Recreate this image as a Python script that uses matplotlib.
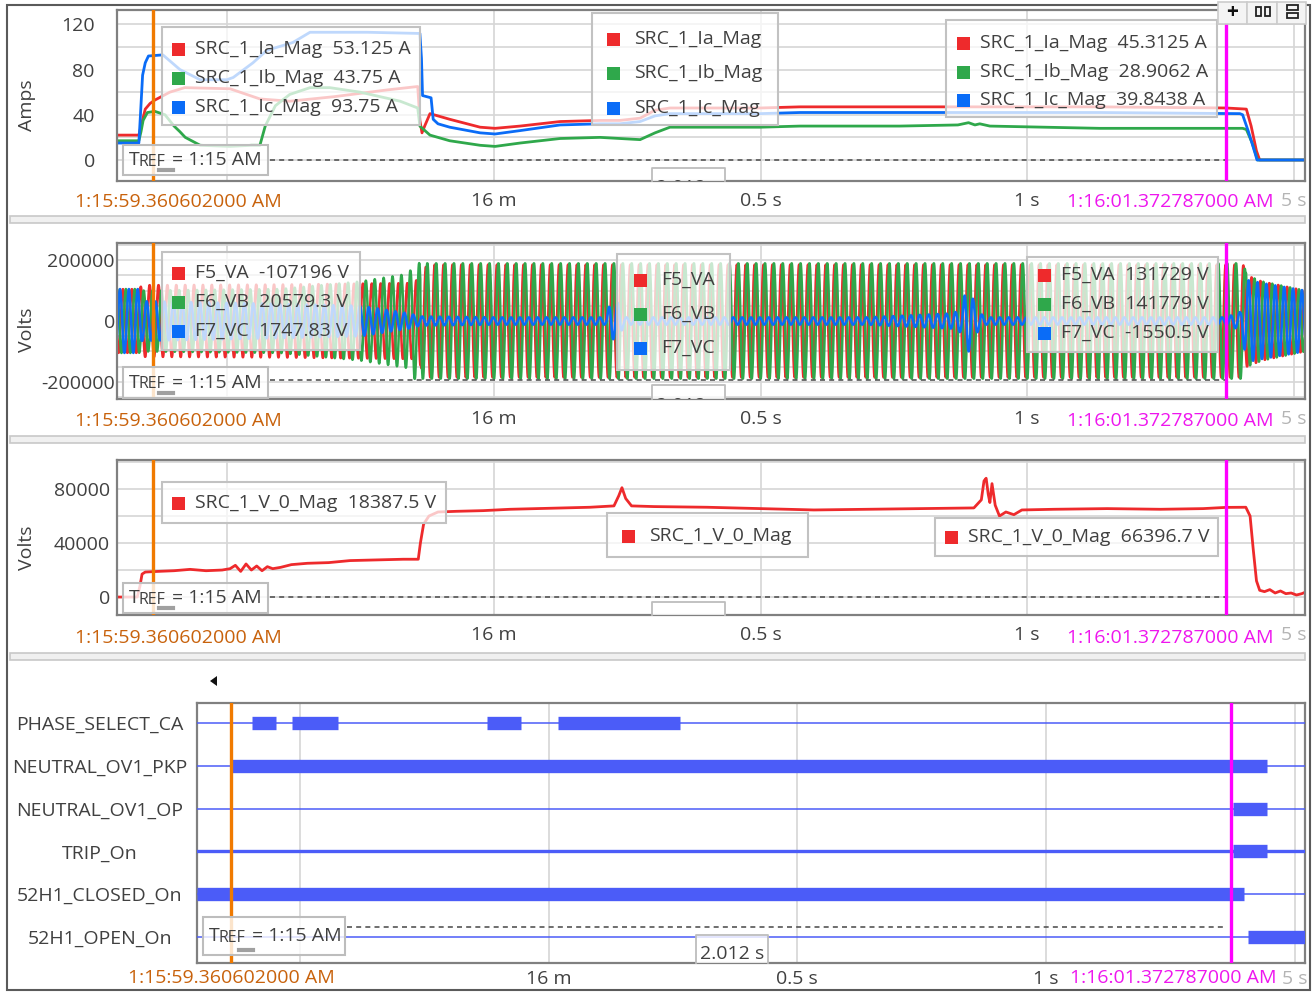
import numpy as np
import matplotlib
matplotlib.use('Agg')
import matplotlib.pyplot as plt
from matplotlib.patches import Rectangle, Polygon
from matplotlib.transforms import Bbox, TransformedBbox

plt.rcParams['font.family'] = ['Open Sans', 'DejaVu Sans']
plt.rcParams['axes.unicode_minus'] = False

# ---------------------------------------------------------------- data
T_START, T_END = 0.293, 2.521          # seconds after 1:15:59 AM
CURSOR_1 = 0.360602                    # 1:15:59.360602000 AM
CURSOR_2 = 2.372787                    # 1:16:01.372787000 AM
cursor_1_label = '1:15:59.360602000 AM'
cursor_2_label = '1:16:01.372787000 AM'
grid_times = [0.5, 1.0, 1.5, 2.0, 2.5]
time_labels = ['', '16 m', '0.5 s', '1 s', '5 s']

# Panel 1 - current magnitudes (A)
ia_t = [0.293, 0.334, 0.338, 0.346, 0.355, 0.364, 0.392, 0.420, 0.505, 0.561,
        0.617, 0.700, 0.800, 0.857, 0.861, 0.865, 0.870, 0.880, 0.917, 0.974,
        1.002, 1.049, 1.124, 1.199, 1.236, 1.274, 1.302, 1.330, 1.499, 1.574,
        1.761, 1.911, 2.136, 2.373, 2.411, 2.420, 2.430, 2.436, 2.521]
ia = [22, 22, 30, 45, 50, 53, 60, 64, 63, 54,
      52, 56, 62, 65, 35, 24, 30, 41, 36, 29,
      28, 30, 34, 35, 35, 37, 44, 46, 46, 47,
      47, 47, 47, 46, 45, 30, 8, 0, 0]
ib_t = [0.293, 0.334, 0.338, 0.342, 0.350, 0.364, 0.383, 0.400, 0.411, 0.421,
        0.449, 0.505, 0.545, 0.561, 0.571, 0.590, 0.617, 0.655, 0.692, 0.749,
        0.824, 0.857, 0.861, 0.868, 0.880, 0.917, 0.974, 1.002, 1.049, 1.124,
        1.199, 1.236, 1.274, 1.302, 1.330, 1.499, 1.574, 1.761, 1.870, 1.890,
        1.902, 1.911, 1.930, 2.136, 2.404, 2.411, 2.422, 2.432, 2.521]
ib = [17, 17, 25, 35, 42, 43, 40, 30, 25, 20,
      13, 12, 13, 13, 30, 48, 58, 64, 64, 60,
      52, 46, 30, 27, 22, 17, 13, 12, 15, 19,
      20, 19, 18, 24, 29, 29, 30, 30, 31, 33,
      31, 32, 30, 28, 28, 27, 15, 0, 0]
ic_t = [0.293, 0.334, 0.337, 0.341, 0.346, 0.352, 0.379, 0.411, 0.449, 0.499,
        0.511, 0.548, 0.574, 0.623, 0.655, 0.762, 0.856, 0.861, 0.864, 0.866,
        0.882, 0.886, 0.895, 0.917, 0.974, 1.002, 1.049, 1.124, 1.199, 1.236,
        1.274, 1.302, 1.330, 1.499, 1.574, 1.761, 2.136, 2.399, 2.404, 2.415,
        2.428, 2.431, 2.521]
ic = [15, 15, 40, 75, 86, 92, 93, 80, 71, 71,
      73, 86, 97, 104, 113, 113, 112, 112, 90, 57,
      55, 36, 32, 29, 24, 23, 26, 31, 32, 32,
      34, 39, 41, 41, 42, 42, 42, 41, 40, 25,
      5, 0, 0]

# Panel 2 - phase voltage envelopes (V peak) and phase angles (deg)
F_HZ = 60.0
FAULT_T, OPEN_T = 0.862, 2.410
va_env_t = [0.293, 0.334, 0.340, 0.600, 0.850, 0.862, 0.875, 2.405, 2.412, 2.440, 2.521]
va_env = [105000, 105000, 118000, 120000, 125000, 150000, 185000, 185000, 150000, 130000, 100000]
vb_env_t = [0.293, 0.334, 0.340, 0.600, 0.750, 0.840, 0.850, 2.405, 2.412, 2.440, 2.521]
vb_env = [105000, 105000, 100000, 105000, 130000, 155000, 190000, 190000, 150000, 130000, 100000]
vc_env_t = [0.293, 0.334, 0.340, 0.500, 0.750, 0.840, 0.862, 1.000, 1.210, 1.218,
            1.232, 1.245, 1.700, 1.860, 1.878, 1.884, 1.893, 1.905, 1.920, 2.373,
            2.400, 2.412, 2.440, 2.521]
vc_env = [105000, 105000, 65000, 60000, 50000, 25000, 15000, 12000, 12000, 60000,
          60000, 12000, 12000, 25000, 40000, 100000, 100000, 40000, 12000, 12000,
          30000, 135000, 125000, 100000]
va_phase = [0, -30, 0]      # pre-fault, ground fault, after breaker open
vb_phase = [-120, -90, -120]
vc_phase = [120, 120, 120]

# Panel 3 - zero sequence voltage magnitude (V)
v0_t = [0.293, 0.331, 0.336, 0.340, 0.346, 0.370, 0.400, 0.430, 0.460, 0.490,
        0.505, 0.515, 0.525, 0.535, 0.545, 0.555, 0.565, 0.575, 0.585, 0.600,
        0.620, 0.650, 0.690, 0.730, 0.780, 0.830, 0.858, 0.862, 0.868, 0.878,
        0.895, 0.930, 0.980, 1.030, 1.080, 1.130, 1.180, 1.225, 1.234, 1.240,
        1.247, 1.258, 1.300, 1.400, 1.500, 1.600, 1.700, 1.800, 1.900, 1.914,
        1.919, 1.923, 1.927, 1.930, 1.934, 1.940, 1.948, 1.960, 1.975, 1.990,
        2.050, 2.150, 2.250, 2.330, 2.373, 2.410, 2.418, 2.424, 2.430, 2.436,
        2.445, 2.455, 2.465, 2.475, 2.485, 2.495, 2.505, 2.515, 2.521]
v0 = [0, 0, 8000, 17000, 18500, 19000, 19500, 20500, 19500, 20000,
      21000, 23500, 19000, 24500, 20000, 23000, 19500, 22500, 21000, 22000,
      24000, 25000, 25500, 27000, 27500, 28000, 28000, 40000, 54000, 60000,
      63000, 63500, 64000, 65000, 65500, 66000, 66500, 67500, 75000, 81000,
      73000, 67500, 67000, 66500, 65500, 64500, 65000, 65500, 66000, 72000,
      86000, 88000, 76000, 70000, 84000, 68000, 60000, 63000, 61000, 64500,
      65000, 65500, 65000, 65500, 66400, 66500, 60000, 35000, 12000, 5000,
      4000, 5500, 3000, 4500, 2500, 3000, 1500, 2500, 3500]

# Panel 4 - digital channels (on intervals, s)
digital_names = ['PHASE_SELECT_CA', 'NEUTRAL_OV1_PKP', 'NEUTRAL_OV1_OP',
                 'TRIP_On', '52H1_CLOSED_On', '52H1_OPEN_On']
phase_select_ca_on = [(0.403, 0.451), (0.485, 0.576), (0.876, 0.944), (1.019, 1.264)]
neutral_ov1_pkp_on = [(0.3606, 2.445)]
neutral_ov1_op_on = [(2.377, 2.445)]
trip_on = [(2.377, 2.445)]
closed_on = [(0.293, 2.399)]
open_on = [(2.407, 2.521)]

# legend texts
cur_names = ['SRC_1_Ia_Mag', 'SRC_1_Ib_Mag', 'SRC_1_Ic_Mag']
cur_vals_c1 = ['53.125 A', '43.75 A', '93.75 A']
cur_vals_c2 = ['45.3125 A', '28.9062 A', '39.8438 A']
volt_names = ['F5_VA', 'F6_VB', 'F7_VC']
volt_vals_c1 = ['-107196 V', '20579.3 V', '1747.83 V']
volt_vals_c2 = ['131729 V', '141779 V', '-1550.5 V']
v0_name = 'SRC_1_V_0_Mag'
v0_val_c1 = '18387.5 V'
v0_val_c2 = '66396.7 V'

# ---------------------------------------------------------------- style
W, H = 1313, 992
RED, GREEN, BLUE = '#ee2a2c', '#2fa84b', '#0a6cf7'
ORANGE, MAGENTA = '#f07a00', '#ff00ff'
ORANGE_TXT, MAGENTA_TXT = '#c8620c', '#ee16ee'
DIG = '#4b5cf8'
GRID = '#d6d6d6'
SPINE = '#808080'
TXT = '#404040'
FS = 14

fig = plt.figure(figsize=(W / 100, H / 100), dpi=100)
fig.patch.set_facecolor('white')


def rect(x0, y0, x1, y1):
    return [x0 / W, 1 - y1 / H, (x1 - x0) / W, (y1 - y0) / H]


def make_axes(box, ypad):
    ax = fig.add_axes(rect(*box))
    ax.set_xlim(T_START, T_END)
    for s in ax.spines.values():
        s.set_color(SPINE)
        s.set_linewidth(1.6)
    ax.set_xticks(grid_times)
    ax.set_xticklabels(time_labels)
    ax.tick_params(axis='both', which='both', length=0, labelsize=FS, labelcolor=TXT)
    ax.tick_params(axis='x', pad=8)
    ax.tick_params(axis='y', pad=ypad)
    ax.grid(True, which='both', color=GRID, lw=1.2)
    ax.set_axisbelow(True)
    ax.get_xticklabels()[-1].set_color('#b4b4b4')
    return ax


# ---- panel 1
ax1 = make_axes((117, 10, 1305, 181), 16)
ax1.set_ylim(-18.6, 132.7)
ax1.set_yticks([0, 40, 80, 120])
ax1.set_yticks([20, 60, 100], minor=True)
ax1.plot(ia_t, ia, color=RED, lw=2.0)
ax1.plot(ib_t, ib, color=GREEN, lw=2.0)
ax1.plot(ic_t, ic, color=BLUE, lw=2.0)

# ---- panel 2
ax2 = make_axes((117, 243, 1305, 399), 1.5)
ax2.set_ylim(-256000, 256000)
ax2.set_yticks([-200000, 0, 200000])
ax2.set_yticks([-250000, -150000, -100000, -50000, 50000, 100000, 150000, 250000], minor=True)
tw = np.arange(T_START, T_END, 1.0 / (F_HZ * 32))
state = np.where(tw < FAULT_T, 0, np.where(tw < OPEN_T, 1, 2))
for env_t, env, ph, col in [(va_env_t, va_env, va_phase, RED),
                            (vb_env_t, vb_env, vb_phase, GREEN),
                            (vc_env_t, vc_env, vc_phase, BLUE)]:
    amp = np.interp(tw, env_t, env)
    phase = np.deg2rad(np.array(ph)[state])
    ax2.plot(tw, amp * np.sin(2 * np.pi * F_HZ * tw + phase), color=col, lw=1.8)

# ---- panel 3
ax3 = make_axes((117, 460, 1305, 615), 5)
ax3.set_ylim(-13300, 101500)
ax3.set_yticks([0, 40000, 80000])
ax3.set_yticks([20000, 60000, 100000], minor=True)
ax3.plot(v0_t, v0, color=RED, lw=2.0)

# ---- panel 4 (digital)
ax4 = fig.add_axes(rect(197, 703, 1305, 963))
ax4.set_xlim(T_START, T_END)
ax4.set_ylim(5.607, -0.467)
for s in ax4.spines.values():
    s.set_color(SPINE)
    s.set_linewidth(1.6)
ax4.set_xticks(grid_times)
ax4.set_xticklabels(time_labels)
ax4.set_yticks(range(len(digital_names)))
ax4.set_yticklabels(digital_names)
ax4.tick_params(axis='both', length=0, labelsize=FS, labelcolor=TXT)
ax4.tick_params(axis='x', pad=5)
ax4.tick_params(axis='y', pad=70)
for lbl in ax4.get_yticklabels():
    lbl.set_ha('center')
ax4.get_xticklabels()[-1].set_color('#b4b4b4')
ax4.grid(True, axis='x', color=GRID, lw=1.2)
ax4.set_axisbelow(True)
digital_on = [phase_select_ca_on, neutral_ov1_pkp_on, neutral_ov1_op_on,
              trip_on, closed_on, open_on]
for i, segs in enumerate(digital_on):
    ax4.plot([T_START, T_END], [i, i], color=DIG, lw=2.4 if i == 3 else 1.1, zorder=3)
    for s, e in segs:
        ax4.plot([s, e], [i, i], color=DIG, lw=9.6, solid_capstyle='butt', zorder=3)

for ax in (ax1, ax2, ax3, ax4):
    ax.axvline(CURSOR_1, color=ORANGE, lw=2.4, zorder=6)
    ax.axvline(CURSOR_2, color=MAGENTA, lw=2.4, zorder=6)

# ---------------------------------------------------------------- overlay
ov = fig.add_axes([0, 0, 1, 1], zorder=20)
ov.set_xlim(0, W)
ov.set_ylim(H, 0)
ov.axis('off')
ov.patch.set_alpha(0)

# outer frame and separators
ov.add_patch(Rectangle((7, 5), 1303, 985, fill=False, ec='#5a5a5a', lw=1.5))
for y in (216, 436, 653):
    ov.add_patch(Rectangle((10, y), 1295, 7, fc='#f0f0f0', ec='#c8c8c8', lw=1.2))

# y labels
for txt, y in [('Amps', 105), ('Volts', 330), ('Volts', 548)]:
    ov.text(27, y, txt, rotation=90, ha='center', va='center', fontsize=FS, color=TXT)

# cursor labels
for y, xo, xm in [(202, 75, 1067), (421, 75, 1067), (638, 75, 1067), (978, 128, 1070)]:
    ov.text(xo, y, cursor_1_label, ha='left', va='center', fontsize=FS, color=ORANGE_TXT)
    ov.text(xm, y, cursor_2_label, ha='left', va='center', fontsize=FS, color=MAGENTA_TXT)


def legend_box(x0, y0, x1, y1, colors, labels, ys, xs, xt):
    ov.add_patch(Rectangle((x0, y0), x1 - x0, y1 - y0, fc=(1, 1, 1, 0.74), ec='#c2c2c2', lw=1.5))
    for c, lab, y in zip(colors, labels, ys):
        ov.add_patch(Rectangle((xs - 6.5, y - 6.5), 13, 13, fc=c, ec='none'))
        ov.text(xt, y, lab, ha='left', va='center', fontsize=FS, color=TXT)


rgb = [RED, GREEN, BLUE]
legend_box(162, 27, 420, 125, rgb, [n + '  ' + v for n, v in zip(cur_names, cur_vals_c1)],
           [49, 78, 107], 178, 195)
legend_box(592, 13, 778, 125, rgb, cur_names, [39, 73, 108], 613, 634)
legend_box(946, 20, 1217, 117, rgb, [n + '  ' + v for n, v in zip(cur_names, cur_vals_c2)],
           [43, 72, 100], 963, 980)
legend_box(162, 252, 360, 350, rgb, [n + '  ' + v for n, v in zip(volt_names, volt_vals_c1)],
           [273, 302, 331], 178, 195)
legend_box(617, 254, 730, 370, rgb, volt_names, [280, 314, 348], 640, 661)
legend_box(1027, 257, 1218, 352, rgb, [n + '  ' + v for n, v in zip(volt_names, volt_vals_c2)],
           [275, 304, 333], 1044, 1061)
legend_box(162, 482, 446, 523, [RED], [v0_name + '  ' + v0_val_c1], [503], 178, 195)
legend_box(607, 513, 808, 557, [RED], [v0_name], [536], 628, 649)
legend_box(935, 518, 1218, 556, [RED], [v0_name + '  ' + v0_val_c2], [537], 951, 968)


def tref(x0, y0, x1, y1, yline, xend=1225):
    ov.plot([x1 + 2, xend], [yline, yline], color='#555555', lw=1.2, ls=(0, (3, 2.5)))
    ov.add_patch(Rectangle((x0, y0), x1 - x0, y1 - y0, fc=(1, 1, 1, 0.8), ec='#bdbdbd', lw=1.5))
    yc = (y0 + y1) / 2
    ov.text(x0 + 6, yc, 'T', ha='left', va='center', fontsize=FS, color=TXT)
    ov.text(x0 + 16, yc + 2, 'REF', ha='left', va='center', fontsize=11.5, color=TXT)
    ov.text(x0 + 49, yc, '= 1:15 AM', ha='left', va='center', fontsize=FS, color=TXT)
    ov.plot([x0 + 36, x0 + 50], [y1 - 5, y1 - 5], color='#a0a0a0', lw=3)


tref(123, 145, 268, 175, 160)
tref(123, 367, 268, 398, 380)
tref(123, 583, 268, 613, 597)
tref(203, 917, 345, 955, 927)


def delta_box(x0, y0, x1, y1, ytext):
    ov.plot([x0, x0, x1, x1], [y1, y0, y0, y1], color='#bdbdbd', lw=1.3)
    ov.add_patch(Rectangle((x0, y0), x1 - x0, y1 - y0, fc='white', ec='none', alpha=0.8))
    t = ov.text(x0 + 4, ytext, '2.012 s', ha='left', va='center', fontsize=FS, color=TXT)
    t.set_clip_box(TransformedBbox(Bbox([[x0, y0], [x1, y1]]), ov.transData))
    t.set_clip_on(True)


delta_box(652, 168, 725, 181, 188)
delta_box(652, 385, 725, 399, 406)
delta_box(652, 602, 725, 615, 641)
delta_box(696, 935, 768, 963, 954)

# toolbar
for x0, x1 in [(1218, 1247), (1247, 1277), (1277, 1306)]:
    ov.add_patch(Rectangle((x0, 2), x1 - x0, 22, fc='#f4f4f4', ec='#cccccc', lw=1.2))
ov.text(1232, 12, '+', ha='center', va='center', fontsize=15, fontweight='bold', color='#111111')
ov.add_patch(Rectangle((1256, 7), 5, 9, fill=False, ec='#222222', lw=1.3))
ov.add_patch(Rectangle((1265, 7), 5, 9, fill=False, ec='#222222', lw=1.3))
ov.add_patch(Rectangle((1287, 5), 11, 5, fill=False, ec='#222222', lw=1.3))
ov.add_patch(Rectangle((1287, 13), 11, 5, fill=False, ec='#222222', lw=1.3))

# collapse triangle of the digital panel
ov.add_patch(Polygon([[210, 681], [217, 676], [217, 686]], closed=True, fc='#111111', ec='none'))

fig.savefig('out.png', dpi=100)
